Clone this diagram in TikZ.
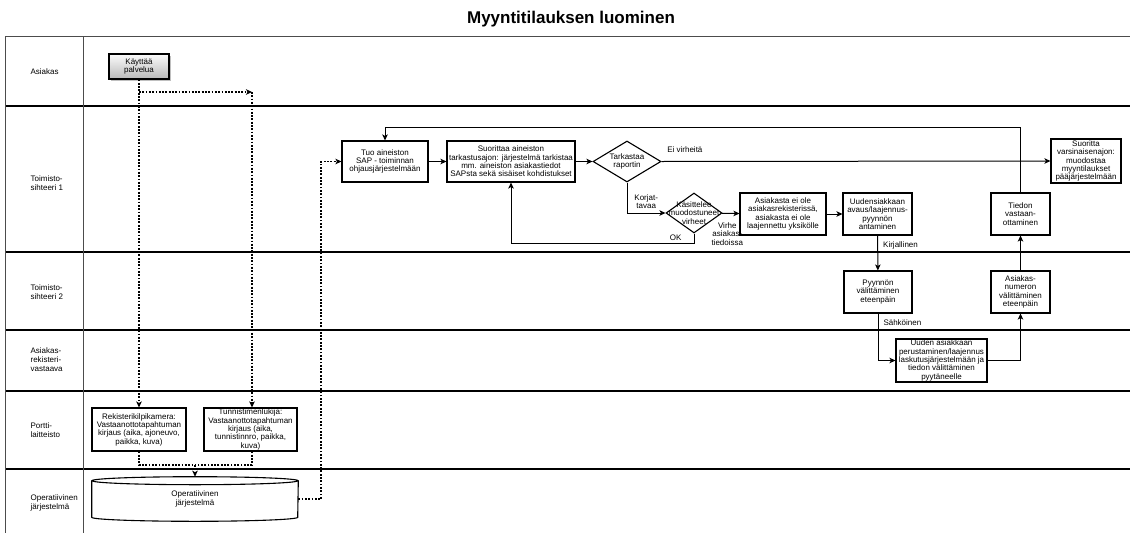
\documentclass[tikz,border=0pt]{standalone}
\usepackage{fontspec}
\setmainfont{Liberation Sans}
\usetikzlibrary{calc,shapes,arrows.meta,positioning,shadows}
\newcommand\boxfont{\fontsize{8}{8.3}\selectfont}
\newcommand\lanefont{\fontsize{8}{9}\selectfont}
\tikzset{
     frame/.style = {gray!60!black, line width=1pt},
      lane/.style = {black, line width=1.1pt},
      lanelabel/.style = {font=\lanefont, align=left, anchor=west},
      box/.style = {draw, line width=1.1pt, align=center, inner sep=0.5pt, font=\boxfont},
      choice/.style = {diamond, draw, line width=1.1pt, align=center, inner sep=0pt, font=\boxfont},
      dbbody/.style = {align=center, inner sep=0pt, font=\boxfont},
      flow/.style = {black, line width=1pt, ->},
      dotflow/.style = {black, line width=1.1pt, dash pattern=on 1.8pt off 1.5pt},
      edgelabel/.style = {font=\boxfont, align=center, inner sep=0pt},
    }

\begin{document}
\begin{tikzpicture}[x=1pt, y=-1pt, semithick, >={Stealth[length=6pt,width=5.5pt,inset=1.5pt]}]
        \useasboundingbox (0,0) rectangle (1130,533);
        \node[font=\bfseries\fontsize{17}{20}\selectfont] (title) at (571,19) {Myyntitilauksen luominen};
        % kaistat
        \draw[frame] (5,36) -- (1130,36);
        \foreach \y in {106,252,330,391,469}
          \draw[lane] (5,\y) -- (1130,\y);
        \draw[frame] (5,36) -- (5,533) (83,36) -- (83,533);
        \node[lanelabel] (l1) at (27,72)  {Asiakas};
        \node[lanelabel] (l2) at (27,183) {Toimisto-\\sihteeri 1};
        \node[lanelabel] (l3) at (27,292) {Toimisto-\\sihteeri 2};
        \node[lanelabel] (l4) at (27,360) {Asiakas-\\rekisteri-\\vastaava};
        \node[lanelabel] (l5) at (27,430) {Portti-\\laitteisto};
        \node[lanelabel] (l6) at (27,503) {Operatiivinen\\järjestelmä};
        % solmut
        \node[box, minimum width=60pt, minimum height=25pt, top color=gray!3, bottom color=gray!55,
              drop shadow={shadow xshift=1.5pt, shadow yshift=-1.5pt}] (kaytto) at (139,66.5) {Käyttää\\palvelua};
        \node[box, minimum width=94pt, minimum height=43pt] (kamera) at (139,429.5)
              {Rekisterikilpikamera:\\Vastaanottotapahtuman\\kirjaus (aika, ajoneuvo,\\paikka, kuva)};
        \node[box, minimum width=93pt, minimum height=43pt] (lukija) at (250.5,429.5)
              {Tunnistimenlukija:\\Vastaanottotapahtuman\\kirjaus (aika,\\tunnistinnro, paikka,\\kuva)};
        \node[dbbody, minimum width=206pt, minimum height=36pt] (oper) at (195,499) {Operatiivinen\\järjestelmä};
        \draw[line width=1.1pt] (oper.north west) -- (oper.south west)
              arc[start angle=180, end angle=360, x radius=103pt, y radius=4pt] -- (oper.north east);
        \draw[line width=1.1pt] (oper.north) ellipse[x radius=103pt, y radius=4pt];
        \node[box, minimum width=86pt, minimum height=41pt] (tuo) at (385,161.5)
              {Tuo aineiston\\SAP - toiminnan\\ohjausjärjestelmään};
        \node[box, minimum width=128pt, minimum height=41pt] (ajo) at (511,161.5)
              {Suorittaa aineiston\\tarkastusajon: järjestelmä tarkistaa\\mm. aineiston asiakastiedot\\SAPsta sekä sisäiset kohdistukset};
        \node[choice, aspect=1.66, minimum width=68pt, minimum height=41pt] (raportti) at (627,161.5) {Tarkastaa\\raportin};
        \node[choice, minimum width=56pt, minimum height=40pt,
              label={[edgelabel]center:{Käsittelee\\muodostuneet\\virheet}}] (virheet) at (694,213) {};
        \node[box, minimum width=86pt, minimum height=42pt] (eiasiakas) at (783,214)
              {Asiakasta ei ole\\asiakasrekisterissä,\\asiakasta ei ole\\laajennettu yksikölle};
        \node[box, minimum width=69pt, minimum height=42pt] (pyynto) at (877.5,214)
              {Uudensiakkaan\\avaus/laajennus-\\pyynnön\\antaminen};
        \node[box, minimum width=68pt, minimum height=42pt] (valitys) at (878,292)
              {Pyynnön\\välittäminen\\eteenpäin};
        \node[box, minimum width=91pt, minimum height=43pt] (perustus) at (941.5,360.5)
              {Uuden asiakkaan\\perustaminen/laajennus\\laskutusjärjestelmään ja\\tiedon välittäminen\\pyytäneelle};
        \node[box, minimum width=59pt, minimum height=42pt] (numero) at (1020.5,292)
              {Asiakas-\\numeron\\välittäminen\\eteenpäin};
        \node[box, minimum width=59pt, minimum height=42pt] (tieto) at (1020.5,214)
              {Tiedon\\vastaan-\\ottaminen};
        \node[box, minimum width=70pt, minimum height=44pt] (varsinainen) at (1086,161)
              {Suoritta\\varsinaisenajon:\\muodostaa\\myyntilaukset\\pääjärjestelmään};
        % apupisteet
        \coordinate (jako) at (139,92);
        \coordinate (kulma) at (252,92);
        \coordinate (yhdys) at (195,465);
        \coordinate (nousu) at (321,161.5);
        \coordinate (ylaraja) at (0,127);
        \coordinate (opertop) at ($(oper.north)+(0,-4)$);
        % katkoviivat
        \draw[dotflow,->] (kaytto.south) -- (kamera.north);
        \draw[dotflow,->] (jako) -- (kulma);
        \draw[dotflow,->] (kulma) -- (kulma |- lukija.north);
        \draw[dotflow] (kamera.south) |- (yhdys);
        \draw[dotflow] (kulma |- lukija.south) |- (yhdys);
        \draw[dotflow,->] (yhdys) -- (opertop);
        \draw[dotflow,->] (oper.east) -| (nousu) -- (tuo.west);
        % kulku
        \path[flow]
        (tuo) edge (ajo)
        (ajo) edge (raportti)
        (virheet) edge node[edgelabel, pos=0.3, below=9pt] {Virhe\\asiakas-\\tiedoissa} (eiasiakas)
        (eiasiakas) edge (pyynto)
        (pyynto) edge node[edgelabel, pos=0.28, right=5pt] {Kirjallinen} (valitys)
        (numero) edge (tieto);
        \draw[flow] (raportti.east) -- node[edgelabel, pos=0.06, above=8pt] {Ei virheitä} (varsinainen.west);
        \draw[flow] (raportti.south) |- node[edgelabel, pos=0.75, above=4pt] {Korjat-\\tavaa} (virheet.west);
        \draw[flow] (virheet.south) -- ++(0,10) node[edgelabel, above left=2pt and 12pt] {OK} -| (ajo.south);
        \draw[flow] (valitys.south) |- node[edgelabel, pos=0.1, right=5pt] {Sähköinen} (perustus.west);
        \draw[flow] (perustus.east) -| (numero.south);
        \draw[flow] (tieto.north) -- (tieto.north |- ylaraja) -| (tuo.north);
    \end{tikzpicture}
\end{document}
